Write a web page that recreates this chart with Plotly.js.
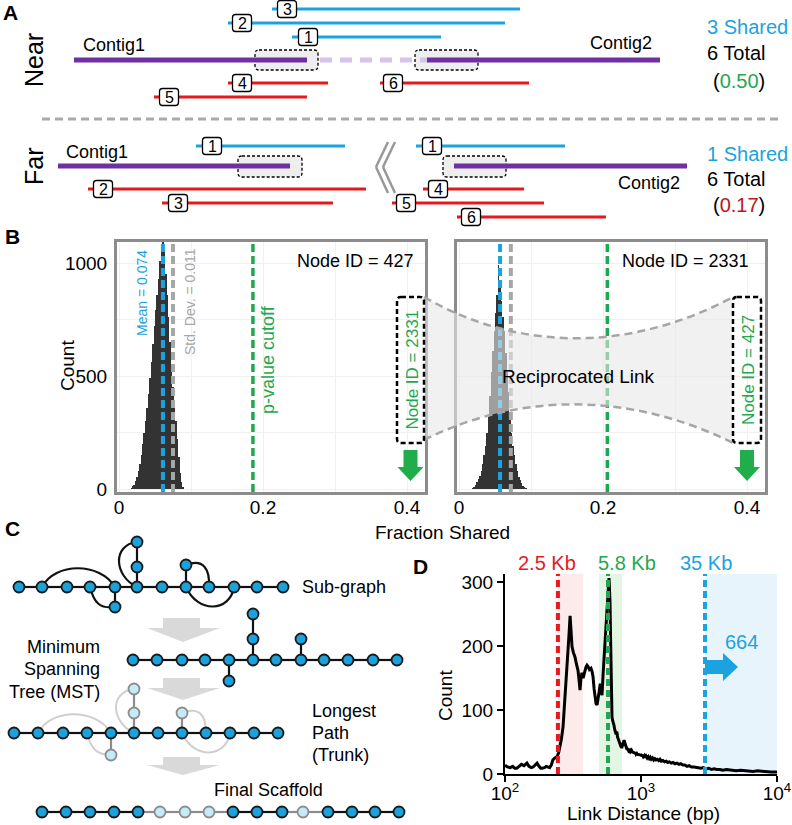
<!DOCTYPE html>
<html><head><meta charset="utf-8">
<script src="https://cdn.plot.ly/plotly-3.0.1.min.js"></script>
<style>html,body{margin:0;padding:0;background:#fff;}#chart{width:792px;height:825px;}</style>
</head><body><div id="chart"></div>
<script>
const FONT = 'Arial, "Liberation Sans", sans-serif';
const BLUE = '#1ba3e0', RED = '#e8191c', GREEN = '#1fa84f', PURPLE = '#7030a0', DARKRED = '#c0141a', GRAY = '#a6a6a6';
const NODE_BLUE = '#1aa2dc', NODE_LIGHT = '#c5ebf9';

// ---------------- Panel B data ----------------
const histLeftX = [0.017,0.019,0.021,0.023,0.025,0.027,0.029,0.031,0.033,0.035,0.037,0.039,0.041,0.043,0.045,0.047,0.049,0.051,0.053,0.055,0.057,0.059,0.061,0.063,0.065,0.067,0.069,0.071,0.073,0.075,0.077,0.079,0.081,0.083,0.085,0.087,0.089];
const histLeftY = [5,12,20,35,55,80,110,150,200,250,300,360,420,490,560,640,720,790,860,930,1010,1080,1120,1050,950,860,760,650,540,450,380,300,220,140,70,30,10];
const histRightX = [0.019,0.021,0.023,0.025,0.027,0.029,0.031,0.033,0.035,0.037,0.039,0.041,0.043,0.045,0.047,0.049,0.051,0.053,0.055,0.057,0.059,0.061,0.063,0.065,0.067,0.069,0.071,0.073,0.075,0.077,0.079,0.081,0.083,0.085,0.087,0.089,0.091,0.093];
const histRightY = [5,10,18,30,45,60,80,110,150,190,250,320,410,520,610,700,780,860,990,900,830,760,700,600,520,430,320,250,190,150,110,80,55,40,25,15,8,3];
const meanLines = [0.061, 0.057];
const sdLines = [0.075, 0.072];
const pLines = [0.186, 0.206];
const nodeIds = ['427', '2331'];
const bXTicks = [0, 0.2, 0.4];
const bXTickText = ['0', '0.2', '0.4'];
const bXMinor = [0.1, 0.3];
const bYTicks = [0, 500, 1000];
const bYTickText = ['0', '500', '1000'];
const bYMinor = [250, 750];

// ---------------- Panel D data ----------------
const linkDist = [100,104,109,114,118,122,127,132,138,145,150,156,161,166,172,178,183,187,195,201,207,213,219,225,233,241,248,254,260,267,274,281,286,291,296,301,305,311,318,327,335,344,350,356,362,368,375,385,394,401,408,418,429,437,444,452,459,467,475,483,491,500,508,513,517,526,535,545,553,562,572,582,587,592,597,602,607,612,618,623,628,633,640,645,651,656,662,667,672,678,684,689,695,700,707,712,718,725,731,738,744,751,757,763,769,776,783,790,796,802,808,815,822,830,838,845,852,860,867,873,882,890,897,905,913,920,930,940,950,960,972,984,996,1010,1025,1040,1060,1075,1090,1110,1130,1150,1170,1190,1215,1240,1265,1290,1320,1350,1380,1410,1450,1490,1530,1570,1620,1670,1720,1780,1840,1900,1960,2030,2100,2180,2260,2350,2450,2550,2650,2760,2880,3000,3150,3300,3450,3600,3800,4000,4250,4500,4750,5000,5400,5800,6200,6700,7200,7800,8400,9000,9500,10000];
const linkCount = [14,11,10,12,9,9,12,15,13,17,12,10,11,14,17,12,9,9,10,12,11,10,14,22,25,27,33,42,55,73,108,147,170,183,220,247,222,199,190,183,172,162,148,131,150,158,150,160,167,170,168,163,165,160,152,133,116,110,108,116,127,139,139,128,123,155,183,220,245,261,282,306,290,267,215,162,118,89,84,82,80,76,70,66,64,62,66,64,58,55,54,53,48,45,44,43,42,42,45,49,52,53,50,47,44,41,40,38,40,38,37,38,36,37,35,36,37,34,35,33,35,32,34,31,33,31,32,30,32,29,31,29,31,28,30,27,29,26,28,25,27,24,26,23,25,22,24,22,23,21,23,20,21,19,20,18,19,17,18,16,17,15,16,14,14,12,13,11,11,10,10,9,10,8,9,7,8,7,7,6,7,6,6,5,6,5,5,4,5,4,4,3,3,3];
const cutoffs = [245, 572, 2955];
const cutoffLabels = ['2.5 Kb', '5.8 Kb', '35 Kb'];
const cutoffColors = [RED, GREEN, BLUE];
const bandStart = [245, 491, 2955];
const bandEnd = [375, 725, 10000];
const bandColors = ['#fdeaea', '#e2f6e3', '#e7f4fc'];
const dXTicks = [100, 1000, 10000];
const dXTickText = ['10<sup>2</sup>', '10<sup>3</sup>', '10<sup>4</sup>'];
const dYTicks = [0, 100, 200, 300];

// ---------------- Panel A schematic (page pixel layout) ----------------
const nearLabels = ['3','2','1','4','5','6'];
const nearX0 = [272,228,292,228,154,380];
const nearX1 = [520,505,441,328,307,529];
const nearY = [9,23,37,83,97,83];
const nearBoxX = [287,242,308,242,169,393];
const nearShared = [true,true,true,false,false,false];
const farLabels = ['1','2','3','1','4','5','6'];
const farX0 = [196,88,162,416,423,392,457];
const farX1 = [345,366,333,565,524,544,606];
const farY = [146,189,203,146,189,203,217];
const farBoxX = [212,103,178,432,438,406,471];
const farShared = [true,false,false,true,false,false,false];
const contigX0 = [74,427,58,454];
const contigX1 = [307,660,290,687];
const contigY = [60,60,166,166];
const endBoxes = [[255,50,318,70],[415,50,478,70],[238,156,302,177],[443,156,506,177]];

// ---------------- Panel C schematic ----------------
const sgX = [19,42,67,90,115,137,162,186,209,234,257,283]; const sgY = 587;
const sgBranchX = [137,137,115,186]; const sgBranchY = [567,542,607,565];
const mstX = [133,157,182,205,229,253,276,301,324,348,373,397]; const mstY = 660;
const mstBranchX = [253,253,301,229]; const mstBranchY = [639,614,639,681];
const lpX = [14,38,63,87,111,134,158,182,206,230,254,278]; const lpY = 733;
const lpBranchX = [134,134,182,111]; const lpBranchY = [713,689,713,755];
const finX = [42,66,90,114,138,160,185,209,233,257,282,303,328,352,375,399]; const finY = 812;
const finLight = [false,false,false,false,false,true,true,true,false,false,false,true,false,false,false,false];

// ---------------- build ----------------
const traces = [];
const shapes = [];
const ann = [];

function txt(x, y, text, o) {
  o = o || {};
  ann.push(Object.assign({x: x, y: y, xref: 'x', yref: 'y', text: text, showarrow: false,
    xanchor: 'center', yanchor: 'middle', font: {family: FONT, size: 18, color: '#000'}}, o));
}
function rr(x0, y0, x1, y1, r) {
  return `M${x0+r},${y0} L${x1-r},${y0} Q${x1},${y0} ${x1},${y0+r} L${x1},${y1-r} Q${x1},${y1} ${x1-r},${y1} L${x0+r},${y1} Q${x0},${y1} ${x0},${y1-r} L${x0},${y0+r} Q${x0},${y0} ${x0+r},${y0} Z`;
}
function segs(list) {
  const xs = [], ys = [];
  list.forEach(s => { xs.push(s[0], s[2], null); ys.push(s[1], s[3], null); });
  return {xs, ys};
}
function lineTrace(list, color, width, dash, axes) {
  const s = segs(list);
  traces.push({type: 'scatter', mode: 'lines', x: s.xs, y: s.ys, xaxis: axes ? axes[0] : 'x', yaxis: axes ? axes[1] : 'y',
    line: {color: color, width: width, dash: dash || 'solid'}, hoverinfo: 'skip'});
}

// Panel A
txt(10, 12, '<b>A</b>', {font: {family: FONT, size: 21}});
txt(34, 60, 'Near', {textangle: -90, font: {family: FONT, size: 25}});
txt(34, 166, 'Far', {textangle: -90, font: {family: FONT, size: 25}});
endBoxes.forEach(b => shapes.push({type: 'path', xref: 'x', yref: 'y', path: rr(b[0], b[1], b[2], b[3], 4), fillcolor: '#eeeeee',
  line: {color: '#000', width: 1.3, dash: '3px,2px'}, layer: 'below'}));
lineTrace([[320, 60, 428, 60]], '#d8c4ea', 5, '12px,8px');
lineTrace(contigX0.map((x, i) => [x, contigY[i], contigX1[i], contigY[i]]), PURPLE, 5);
lineTrace([[42, 119, 778, 119]], '#aaaaaa', 3, '8px,5px');
lineTrace([[388,142,376,167],[376,167,388,193],[395,142,383,167],[383,167,395,193]], '#999999', 2.5);
function reads(labels, x0, x1, y, bx, shared) {
  lineTrace(labels.map((l, i) => shared[i] ? [x0[i], y[i], x1[i], y[i]] : null).filter(Boolean), BLUE, 3);
  lineTrace(labels.map((l, i) => !shared[i] ? [x0[i], y[i], x1[i], y[i]] : null).filter(Boolean), RED, 3);
  labels.forEach((l, i) => {
    shapes.push({type: 'path', xref: 'x', yref: 'y', path: rr(bx[i] - 9.5, y[i] - 8.5, bx[i] + 9.5, y[i] + 8.5, 3),
      fillcolor: '#fff', line: {color: '#000', width: 1.3}, layer: 'above'});
    txt(bx[i], y[i] + 0.5, l, {font: {family: FONT, size: 16}});
  });
}
reads(nearLabels, nearX0, nearX1, nearY, nearBoxX, nearShared);
reads(farLabels, farX0, farX1, farY, farBoxX, farShared);
txt(114, 45, 'Contig1'); txt(621, 43, 'Contig2');
txt(97, 152, 'Contig1'); txt(649, 183, 'Contig2');
const bigA = {family: FONT, size: 20, color: '#000'};
txt(705, 27, '3 Shared', {xanchor: 'left', font: Object.assign({}, bigA, {color: BLUE})});
txt(705, 53, '6 Total', {xanchor: 'left', font: bigA});
txt(711, 81, `(<span style="color:${GREEN}">0.50</span>)`, {xanchor: 'left', font: bigA});
txt(705, 154, '1 Shared', {xanchor: 'left', font: Object.assign({}, bigA, {color: BLUE})});
txt(705, 179, '6 Total', {xanchor: 'left', font: bigA});
txt(711, 205, `(<span style="color:${DARKRED}">0.17</span>)`, {xanchor: 'left', font: bigA});

// Panel B
txt(12, 236, '<b>B</b>', {font: {family: FONT, size: 21}});
[['x2', 'y2', histLeftX, histLeftY], ['x3', 'y3', histRightX, histRightY]].forEach((h, k) => {
  traces.push({type: 'bar', x: h[2], y: h[3], xaxis: h[0], yaxis: h[1], width: 0.0021,
    marker: {color: '#333333', line: {width: 0}}, hoverinfo: 'skip'});
  lineTrace([[meanLines[k], -13, meanLines[k], 1093]], BLUE, 4, '8px,4px', [h[0], h[1]]);
  lineTrace([[sdLines[k], -13, sdLines[k], 1093]], GRAY, 4, '8px,4px', [h[0], h[1]]);
  lineTrace([[pLines[k], -13, pLines[k], 1093]], GREEN, 3.5, '8px,4px', [h[0], h[1]]);
});
txt(142, 293, 'Mean = 0.074', {textangle: -90, font: {family: FONT, size: 14, color: BLUE}});
txt(190, 302, 'Std. Dev. = 0.011', {textangle: -90, font: {family: FONT, size: 14, color: GRAY}});
txt(268, 360, 'p-value cutoff', {textangle: -90, font: {family: FONT, size: 18, color: GREEN}});
txt(355, 261, 'Node ID = ' + nodeIds[0], {font: {family: FONT, size: 18}});
txt(685, 261, 'Node ID = ' + nodeIds[1], {font: {family: FONT, size: 18}});
shapes.push({type: 'path', xref: 'x', yref: 'y', path: 'M424,297 C520,352 630,352 733,297 L733,443 C630,392 520,392 424,440 Z',
  fillcolor: 'rgba(232,232,232,0.6)', line: {width: 0}, layer: 'above'});
shapes.push({type: 'path', xref: 'x', yref: 'y', path: 'M424,297 C520,352 630,352 733,297', line: {color: GRAY, width: 2.5, dash: '8px,5px'}, layer: 'above'});
shapes.push({type: 'path', xref: 'x', yref: 'y', path: 'M424,440 C520,392 630,392 733,443', line: {color: GRAY, width: 2.5, dash: '8px,5px'}, layer: 'above'});
[[397, 424], [733, 761]].forEach((b, k) => {
  shapes.push({type: 'path', xref: 'x', yref: 'y', path: rr(b[0], 297, b[1], 443, 4), line: {color: '#000', width: 2.5, dash: '5px,3px'}, layer: 'above'});
  const c = (b[0] + b[1]) / 2;
  txt(c + 1, 370, 'Node ID = ' + nodeIds[1 - k], {textangle: -90, font: {family: FONT, size: 17, color: GREEN}});
  shapes.push({type: 'path', xref: 'x', yref: 'y', path: `M${c-7},450 L${c+7},450 L${c+7},467 L${c+13},467 L${c},481 L${c-13},467 L${c-7},467 Z`,
    fillcolor: '#1fae4b', line: {width: 0}, layer: 'above'});
});
txt(578, 376, 'Reciprocated Link', {font: {family: FONT, size: 19}});
txt(442, 532, 'Fraction Shared', {font: {family: FONT, size: 19}});
txt(67, 366, 'Count', {textangle: -90, font: {family: FONT, size: 19}});

// Panel C
txt(12, 528, '<b>C</b>', {font: {family: FONT, size: 21}});
const arrows = [[618, 628, 642], [678, 688, 700], [757, 765, 775]];
arrows.forEach(a => shapes.push({type: 'path', xref: 'x', yref: 'y',
  path: `M163,${a[0]} L200,${a[0]} L200,${a[1]} L220,${a[1]} L183,${a[2]} L147,${a[1]} L163,${a[1]} Z`, fillcolor: '#d9d9d9', line: {width: 0}, layer: 'below'}));
const sgCurves = ['M42,587 C55,562 100,562 115,587', 'M90,587 C94,603 100,609 115,607', 'M137,542 C112,545 114,576 137,587',
  'M186,565 C204,558 210,570 209,587', 'M186,587 C198,614 230,612 234,587'];
sgCurves.forEach(p => shapes.push({type: 'path', xref: 'x', yref: 'y', path: p, line: {color: '#111', width: 2.2}, layer: 'below'}));
const lpCurves = ['M38,733 C51,708 96,708 111,733', 'M87,733 C91,749 97,755 111,755', 'M134,689 C109,692 111,722 134,733',
  'M182,713 C200,706 206,716 206,733', 'M182,733 C194,760 226,758 230,733'];
lpCurves.forEach(p => shapes.push({type: 'path', xref: 'x', yref: 'y', path: p, line: {color: '#cfcfcf', width: 2}, layer: 'below'}));
function chain(xs, y) { const l = []; for (let i = 0; i < xs.length - 1; i++) l.push([xs[i], y, xs[i + 1], y]); return l; }
lineTrace(chain(sgX, sgY).concat([[137, 587, 137, 542], [115, 587, 115, 607], [186, 587, 186, 565]]), '#111', 2.2);
lineTrace(chain(mstX, mstY).concat([[253, 660, 253, 614], [301, 660, 301, 639], [229, 660, 229, 681]]), '#111', 2.2);
lineTrace(chain(lpX, lpY), '#111', 2.2);
lineTrace([[134, 733, 134, 689], [182, 733, 182, 713], [111, 733, 111, 755]], '#8c8c8c', 2.2);
const finSegDark = [], finSegLight = [];
for (let i = 0; i < finX.length - 1; i++) {
  const s = [finX[i], finY, finX[i + 1], finY];
  (finLight[i] || finLight[i + 1]) ? finSegLight.push(s) : finSegDark.push(s);
}
lineTrace(finSegDark, '#111', 2.2); lineTrace(finSegLight, '#8c8c8c', 2.2);
function nodes(xs, ys, light) {
  traces.push({type: 'scatter', mode: 'markers', x: xs, y: ys, xaxis: 'x', yaxis: 'y', hoverinfo: 'skip',
    marker: {size: 11, color: light ? NODE_LIGHT : NODE_BLUE, line: {color: light ? '#8c8c8c' : '#1a1a1a', width: 1.8}}});
}
nodes(sgX.concat(sgBranchX), sgX.map(() => sgY).concat(sgBranchY));
nodes(mstX.concat(mstBranchX), mstX.map(() => mstY).concat(mstBranchY));
nodes(lpX, lpX.map(() => lpY));
nodes(lpBranchX, lpBranchY, true);
nodes(finX.filter((x, i) => !finLight[i]), finX.filter((x, i) => !finLight[i]).map(() => finY));
nodes(finX.filter((x, i) => finLight[i]), finX.filter((x, i) => finLight[i]).map(() => finY), true);
txt(300, 587, 'Sub-graph', {xanchor: 'left'});
txt(102, 647, 'Minimum', {xanchor: 'right'});
txt(102, 669, 'Spanning', {xanchor: 'right'});
txt(102, 692, 'Tree (MST)', {xanchor: 'right'});
txt(310, 711, 'Longest', {xanchor: 'left'});
txt(310, 733, 'Path', {xanchor: 'left'});
txt(310, 755, '(Trunk)', {xanchor: 'left'});
txt(268, 790, 'Final Scaffold');

// Panel D
txt(420, 566, '<b>D</b>', {font: {family: FONT, size: 21}});
bandStart.forEach((b, i) => shapes.push({type: 'rect', xref: 'x4', yref: 'y4', x0: b, x1: bandEnd[i], y0: 0, y1: 313,
  fillcolor: bandColors[i], line: {width: 0}, layer: 'below'}));
traces.push({type: 'scatter', mode: 'lines', x: linkDist, y: linkCount, xaxis: 'x4', yaxis: 'y4', hoverinfo: 'skip',
  line: {color: '#000', width: 3}});
cutoffs.forEach((c, i) => {
  lineTrace([[c, 0, c, 313]], cutoffColors[i], 4, '7px,4px', ['x4', 'y4']);
});
[547, 627, 706].forEach((x, i) => txt(x, 563, cutoffLabels[i], {font: {family: FONT, size: 20, color: cutoffColors[i]}}));
shapes.push({type: 'path', xref: 'x', yref: 'y', path: 'M705,660 L723,660 L723,653 L738,667 L723,681 L723,674 L705,674 Z',
  fillcolor: BLUE, line: {width: 0}, layer: 'above'});
txt(741, 642, '664', {font: {family: FONT, size: 20, color: BLUE}});
txt(643, 813, 'Link Distance (bp)', {font: {family: FONT, size: 19}});
txt(445, 696, 'Count', {textangle: -90, font: {family: FONT, size: 19}});

const tickF = {family: FONT, size: 19, color: '#000'};
const gridC = '#f0f0f0';
const layout = {
  width: 792, height: 825, margin: {l: 0, r: 0, t: 0, b: 0}, paper_bgcolor: '#fff', plot_bgcolor: 'rgba(0,0,0,0)',
  showlegend: false, font: {family: FONT, color: '#000'}, bargap: 0,
  xaxis: {domain: [0, 1], range: [0, 792], visible: false, fixedrange: true},
  yaxis: {domain: [0, 1], range: [825, 0], visible: false, fixedrange: true},
  xaxis2: {domain: [117/792, 425/792], anchor: 'y2', range: [-0.0028, 0.425], tickmode: 'array', tickvals: bXTicks, ticktext: bXTickText,
    minor: {tickmode: 'array', tickvals: bXMinor, showgrid: true, gridcolor: gridC, ticks: ''},
    showline: true, mirror: true, linecolor: '#8c8c8c', linewidth: 3, showgrid: true, gridcolor: gridC, zeroline: false, ticks: '', tickfont: tickF, ticklabelstandoff: -4},
  yaxis2: {domain: [1 - 492/825, 1 - 242/825], anchor: 'x2', range: [-13, 1093], tickmode: 'array', tickvals: bYTicks, ticktext: bYTickText,
    minor: {tickmode: 'array', tickvals: bYMinor, showgrid: true, gridcolor: gridC, ticks: ''},
    showline: true, mirror: true, linecolor: '#8c8c8c', linewidth: 3, showgrid: true, gridcolor: gridC, zeroline: false, ticks: '', tickfont: tickF, ticklabelstandoff: 3},
  xaxis3: {domain: [457/792, 765/792], anchor: 'y3', range: [-0.0028, 0.425], tickmode: 'array', tickvals: bXTicks, ticktext: bXTickText,
    minor: {tickmode: 'array', tickvals: bXMinor, showgrid: true, gridcolor: gridC, ticks: ''},
    showline: true, mirror: true, linecolor: '#8c8c8c', linewidth: 3, showgrid: true, gridcolor: gridC, zeroline: false, ticks: '', tickfont: tickF, ticklabelstandoff: -4},
  yaxis3: {domain: [1 - 492/825, 1 - 242/825], anchor: 'x3', range: [-13, 1093], tickmode: 'array', tickvals: bYTicks, showticklabels: false,
    minor: {tickmode: 'array', tickvals: bYMinor, showgrid: true, gridcolor: gridC, ticks: ''},
    showline: true, mirror: true, linecolor: '#8c8c8c', linewidth: 3, showgrid: true, gridcolor: gridC, zeroline: false, ticks: ''},
  xaxis4: {domain: [505/792, 777/792], anchor: 'y4', type: 'log', range: [2, 4], tickmode: 'array', tickvals: dXTicks, ticktext: dXTickText,
    showline: true, linecolor: '#000', linewidth: 2, ticks: 'outside', ticklen: 6, tickwidth: 2, tickcolor: '#000', showgrid: false, zeroline: false, tickfont: tickF, ticklabelstandoff: -5},
  yaxis4: {domain: [1 - 774/825, 1 - 573.7/825], anchor: 'x4', range: [0, 313], tickmode: 'array', tickvals: dYTicks,
    showline: true, linecolor: '#000', linewidth: 2, ticks: 'outside', ticklen: 6, tickwidth: 2, tickcolor: '#000', showgrid: false, zeroline: false, tickfont: tickF},
  shapes: shapes, annotations: ann
};
Plotly.newPlot('chart', traces, layout, {staticPlot: true, displayModeBar: false});
</script></body></html>
